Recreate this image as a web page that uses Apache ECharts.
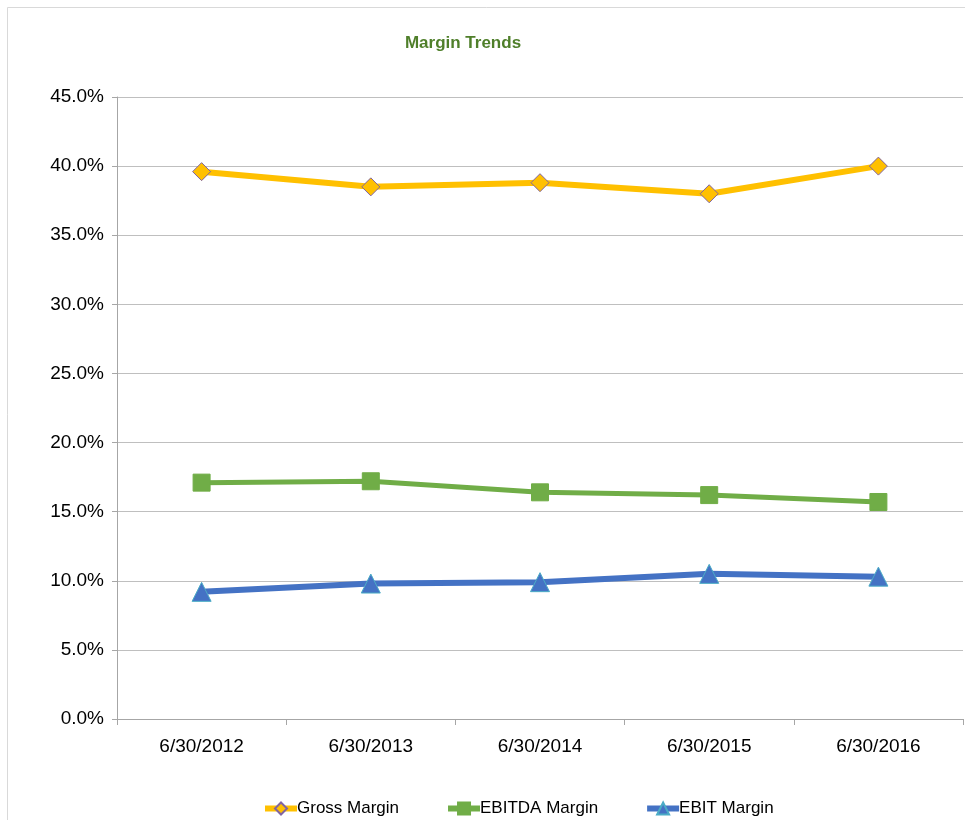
<!DOCTYPE html>
<html><head><meta charset="utf-8">
<script src="https://cdn.jsdelivr.net/npm/echarts@6/dist/echarts.min.js"></script>
<style>html,body{margin:0;padding:0;background:#fff}#c{width:965px;height:820px}</style>
</head><body><div id="c"></div>
<script>
const categories = ['6/30/2012','6/30/2013','6/30/2014','6/30/2015','6/30/2016'];
const grossMargin = [39.6, 38.5, 38.8, 38.0, 40.0];
const ebitdaMargin = [17.1, 17.2, 16.4, 16.2, 15.7];
const ebitMargin = [9.2, 9.8, 9.9, 10.5, 10.3];
const seriesNames = ['Gross Margin','EBITDA Margin','EBIT Margin'];
const FONT = '"Liberation Sans Narrow", "Arial Narrow", "Liberation Sans", Arial, sans-serif';
const chart = echarts.init(document.getElementById('c'), null, {renderer:'canvas'});
chart.setOption({
  animation:false,
  backgroundColor:'#fff',
  graphic:[{type:'rect', shape:{x:7.5,y:7.5,width:1100,height:1100}, style:{fill:'none',stroke:'#d9d9d9',lineWidth:1}, z:-1}],
  title:{text:'Margin Trends', left:458, top:30, textAlign:'center',
    textStyle:{color:'#4f7f2a', fontSize:17, fontWeight:'bold', fontFamily:FONT}},
  grid:{left:117, right:2, top:97, bottom:101, containLabel:false},
  legend:{left:257, bottom:-2, itemGap:46, itemWidth:32, itemHeight:15,
    lineStyle:{width:6},
    textStyle:{fontSize:17, fontFamily:FONT, color:'#000', padding:[0,0,0,-5]},
    data:seriesNames},
  xAxis:{type:'category', data:categories, boundaryGap:true,
    axisLine:{lineStyle:{color:'#a6a6a6'}},
    axisTick:{show:true, length:6, lineStyle:{color:'#a6a6a6'}},
    axisLabel:{fontSize:19, color:'#000', fontFamily:FONT, margin:18}},
  yAxis:{type:'value', min:0, max:45, interval:5,
    axisLine:{show:true, lineStyle:{color:'#a6a6a6'}},
    axisTick:{show:true, length:5, lineStyle:{color:'#a6a6a6'}},
    splitLine:{lineStyle:{color:'#bfbfbf', width:1}},
    axisLabel:{fontSize:19, color:'#000', fontFamily:FONT, margin:13, formatter:v=>v.toFixed(1)+'%'}},
  series:[
    {name:seriesNames[0], type:'line', data:grossMargin, symbol:'diamond', symbolSize:18,
      lineStyle:{color:'#FFC000', width:6}, itemStyle:{color:'#FFC000', borderColor:'#8064A2', borderWidth:1}},
    {name:seriesNames[1], type:'line', data:ebitdaMargin, symbol:'rect', symbolSize:17,
      lineStyle:{color:'#70AD47', width:5}, itemStyle:{color:'#70AD47', borderColor:'#70AD47', borderWidth:1}},
    {name:seriesNames[2], type:'line', data:ebitMargin, symbol:'triangle', symbolSize:19,
      lineStyle:{color:'#4472C4', width:6}, itemStyle:{color:'#4472C4', borderColor:'#4BACC6', borderWidth:1}}
  ]
});
</script></body></html>
